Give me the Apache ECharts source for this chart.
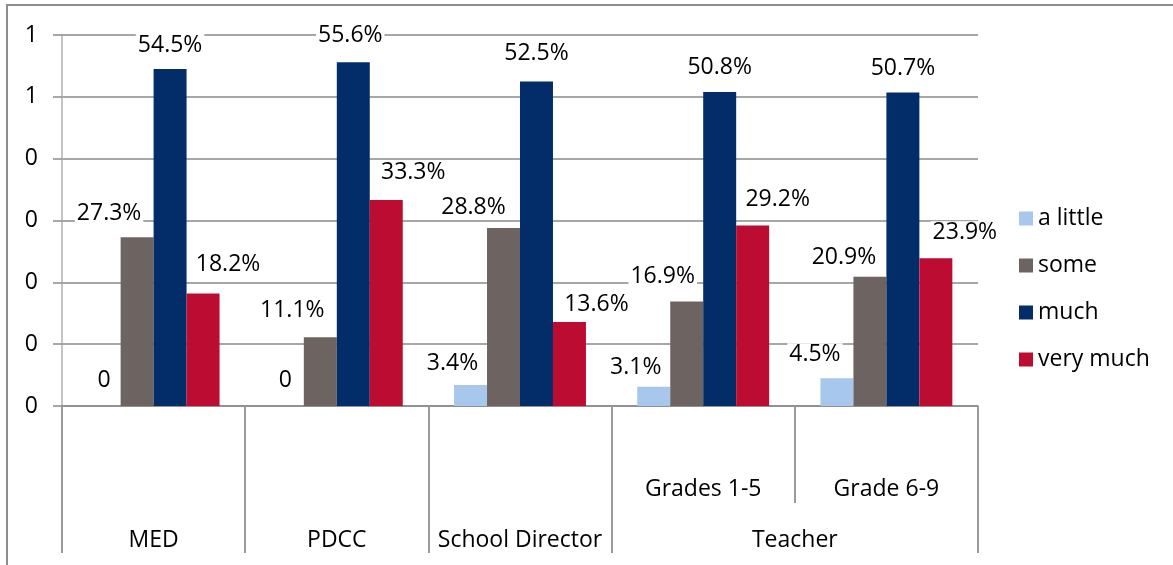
<!DOCTYPE html>
<html>
<head>
<meta charset="utf-8">
<script src="https://cdn.jsdelivr.net/npm/echarts@6/dist/echarts.min.js"></script>
<style>
  html, body { margin: 0; padding: 0; background: #fff; overflow: hidden; }
  #chart { position: absolute; left: 0; top: 0; width: 1173px; height: 565px; }
  #frame { position: absolute; left: 6px; top: 4px; width: 2000px; height: 2000px;
           border-left: 2px solid #8e8e8e; border-top: 2px solid #8e8e8e; pointer-events: none; }
</style>
</head>
<body>
<div id="chart"></div>
<div id="frame"></div>
<script>
// ---- data ----
const categories = ['MED', 'PDCC', 'School Director', 'Grades 1-5', 'Grade 6-9'];
const innerLabels = ['', '', '', 'Grades 1-5', 'Grade 6-9'];
const groupNames = ['MED', 'PDCC', 'School Director', 'Teacher'];
const groupSpans = [1, 1, 1, 2];
const seriesNames = ['a little', 'some', 'much', 'very much'];
const aLittle  = [0, 0, 0.034, 0.031, 0.045];
const some     = [0.273, 0.111, 0.288, 0.169, 0.209];
const much     = [0.545, 0.556, 0.525, 0.508, 0.507];
const veryMuch = [0.182, 0.333, 0.136, 0.292, 0.239];
const yTicks = [0, 0.1, 0.2, 0.3, 0.4, 0.5, 0.6];

// ---- styling (label nudges, colours) ----
const colors = ['#A7C7EC', '#6D6462', '#022D69', '#BC0C31'];
const labelNudge = [
  [[0, -2], [-2, -2], [-18, 2], [-18, 4], [-22, 0]],
  [[-28, 0], [-28, -3], [-30, 3], [-24, -2], [-26, 4]],
  [[0, 0], [-3, -3], [0, -4], [0, -1], [0, -1]],
  [[25, -6], [27, -4], [27, 6], [25, -2], [29, -2]]
];

const FONT = 'Open Sans';
const seriesValues = [aLittle, some, much, veryMuch];

// group tick boundaries and label centres derived from spans
const groupBounds = [0];
const groupCenters = [];
groupSpans.forEach(function (s) {
  const start = groupBounds[groupBounds.length - 1];
  groupCenters.push(start + s / 2);
  groupBounds.push(start + s);
});
const longTicks = groupBounds;

function pctLabel(p) {
  const v = p.value;
  if (v === 0) return '0';
  return (v * 100).toFixed(1) + '%';
}

const series = seriesNames.map(function (name, si) {
  return {
    name: name,
    type: 'bar',
    xAxisIndex: 0,
    barGap: 0,
    barCategoryGap: '28%',
    itemStyle: { color: colors[si] },
    label: {
      show: true,
      position: 'top',
      distance: 12,
      formatter: pctLabel,
      fontFamily: FONT,
      fontSize: 23,
      lineHeight: 23,
      color: '#000',
      backgroundColor: '#fff',
      padding: [0, 2]
    },
    emphasis: { disabled: true },
    data: seriesValues[si].map(function (v, i) {
      return { value: v, label: { offset: labelNudge[si][i] } };
    })
  };
});

const chart = echarts.init(document.getElementById('chart'), null, { renderer: 'canvas' });
chart.setOption({
  animation: false,
  backgroundColor: '#fff',
  textStyle: { fontFamily: FONT },
  grid: { left: 62, right: 195, top: 35, bottom: 159, containLabel: false },
  legend: {
    orient: 'vertical',
    left: 1014,
    top: 202,
    itemWidth: 14,
    itemHeight: 14,
    itemGap: 24,
    icon: 'rect',
    textStyle: { fontFamily: FONT, fontSize: 23, lineHeight: 23, color: '#000' },
    data: seriesNames
  },
  xAxis: [
    {
      type: 'category',
      data: categories,
      position: 'bottom',
      axisLine: { show: true, lineStyle: { color: '#8a8a8a', width: 1.5 } },
      axisTick: { show: true, interval: 0, length: 97, lineStyle: { color: '#9a9a9a', width: 2 } },
      axisLabel: {
        interval: 0,
        margin: 72,
        fontFamily: FONT,
        fontSize: 23,
        color: '#000',
        formatter: function (v, i) { return innerLabels[i]; }
      },
      splitLine: { show: false }
    },
    {
      type: 'value',
      min: 0,
      max: categories.length,
      position: 'bottom',
      axisLine: { show: false },
      axisTick: { show: true, customValues: longTicks, length: 147, lineStyle: { color: '#9a9a9a', width: 2 } },
      axisLabel: {
        customValues: groupCenters,
        margin: 123,
        fontFamily: FONT,
        fontSize: 23,
        color: '#000',
        formatter: function (v) {
          const idx = groupCenters.indexOf(v);
          return idx >= 0 ? groupNames[idx] : '';
        }
      },
      splitLine: { show: false }
    }
  ],
  yAxis: {
    type: 'value',
    min: yTicks[0],
    max: yTicks[yTicks.length - 1],
    interval: 0.1,
    axisLine: { show: true, lineStyle: { color: '#b0b0b0', width: 1.5 } },
    axisTick: { show: true, length: 9, lineStyle: { color: '#8a8a8a', width: 1.5 } },
    axisLabel: {
      margin: 24,
      fontFamily: FONT,
      fontSize: 23,
      color: '#000',
      formatter: function (v) { return String(Math.round(v)); }
    },
    splitLine: { show: true, lineStyle: { color: '#8a8a8a', width: 1.5 } }
  },
  series: series
});
</script>
</body>
</html>
